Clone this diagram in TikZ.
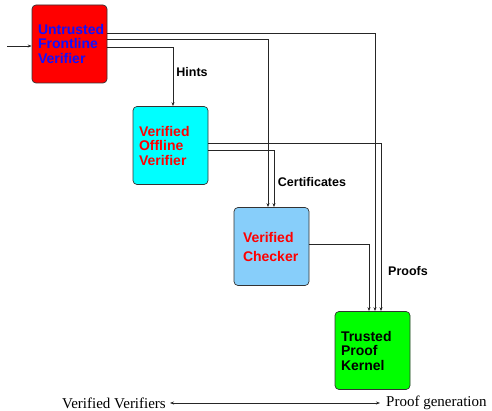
\documentclass[tikz,border=0pt]{standalone}
\usepackage{fontspec}
\setmainfont{Liberation Serif}
\setsansfont{Liberation Sans}
\usetikzlibrary{arrows.meta}
\definecolor{skyb}{HTML}{87CEFA}
\definecolor{boxedge}{HTML}{333333}
\definecolor{cyanfill}{HTML}{00FFFF}
\definecolor{redfill}{HTML}{FF0000}
\definecolor{greenfill}{HTML}{00FF00}
\definecolor{bluetext}{HTML}{1010FF}
\begin{document}
\begin{tikzpicture}[x=1pt,y=-1pt,
  box/.style={draw=boxedge, line width=0.7pt, rounded corners=4pt,
    minimum height=78pt, inner xsep=6pt, inner ysep=0pt, text width=63pt,
    align=left, font=\sffamily\bfseries\fontsize{14}{14.5}\selectfont},
  conn/.style={draw=black!85, line width=0.8pt, -{Stealth[length=4pt,width=3pt]}},
  lbl/.style={font=\sffamily\bfseries\fontsize{12.5}{14}\selectfont, inner sep=0pt},
  foot/.style={font=\fontsize{15}{17}\selectfont, inner sep=0pt},
]
\useasboundingbox (0,0) rectangle (492,411);

\node[box, fill=redfill, text=bluetext] (front) at (69.5,44) {Untrusted\\Frontline\\Verifier};
\node[box, fill=cyanfill, text=redfill] (offline) at (170.5,145.5) {Verified\\Offline\\Verifier};
\node[box, fill=skyb, text=redfill, inner xsep=9pt, text width=57pt,
  font=\sffamily\bfseries\fontsize{14}{19}\selectfont] (checker) at (271.5,246.5) {Verified\\Checker};
\node[box, fill=greenfill, text=black] (kernel) at (372.5,350.5) {Trusted\\Proof\\Kernel};

\coordinate (in) at (7,46);
\draw[conn] (in) -- (front.west |- in);

\draw[conn] ([yshift=11pt]front.east) -| ([xshift=2.5pt]kernel.north);
\draw[conn] ([yshift=5pt]front.east) -| ([xshift=-3.5pt]checker.north);
\draw[conn] ([yshift=-3pt]front.east) -| ([xshift=2.5pt]offline.north);
\draw[conn] ([yshift=2.5pt]offline.east) -| ([xshift=8.5pt]kernel.north);
\draw[conn] ([yshift=-4.5pt]offline.east) -| ([xshift=2.5pt]checker.north);
\draw[conn] ([yshift=2.5pt]checker.east) -| ([xshift=-3.5pt]kernel.north);

\node[lbl] (hints) at (192,72) {Hints};
\node[lbl] (certs) at (312,182) {Certificates};
\node[lbl] (proofs) at (408,271) {Proofs};

\node[foot, anchor=east] (vv) at (166,403) {Verified Verifiers};
\node[foot, anchor=west] (pg) at (386,403) {Proof generation};
\draw[draw=black!85, line width=0.8pt, {Stealth[length=4pt,width=3pt]}-{Stealth[length=4pt,width=3pt]}]
  ([xshift=4pt]vv.east) -- ([xshift=-6pt]pg.west);
\end{tikzpicture}
\end{document}
